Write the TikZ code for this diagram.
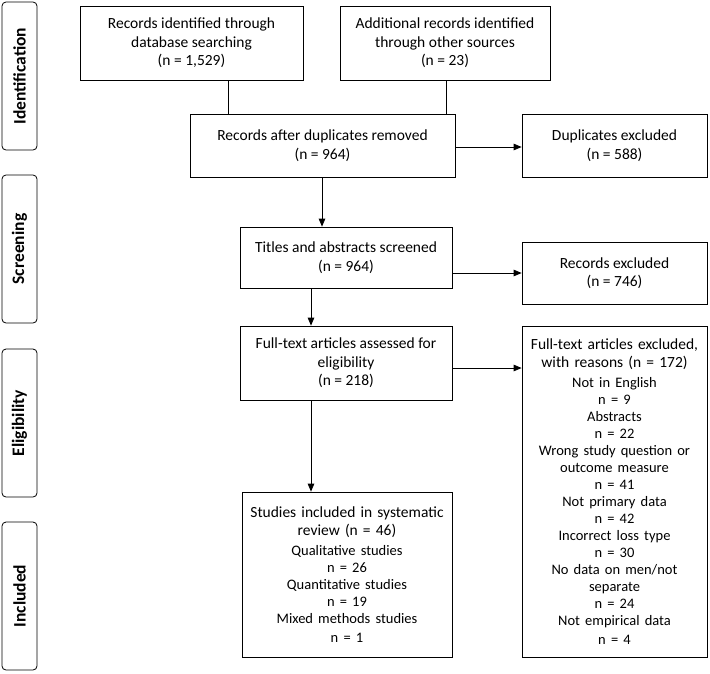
\documentclass[tikz,border=0pt]{standalone}
\usepackage{fontspec}
\setmainfont{Carlito}
\usetikzlibrary{positioning,arrows,calc}
\tikzset{
  box/.style   = {shape=rectangle, draw, thick, align=center,
                  inner sep=0pt, font=\fontsize{15.5}{18.5}\selectfont},
  phase/.style = {shape=rectangle, rounded corners=4pt, draw, thick,
                  inner sep=0pt, font=\bfseries\fontsize{17.5}{19}\selectfont},
  link/.style  = {thick},
  flow/.style  = {thick,-triangle 45}
}
\newcommand{\pbox}[5]{% name, x1, y1, x2, y2, then text follows
  \node[box, minimum width=#4-#2, minimum height=#5-#3] (#1) at ({(#2+#4)/2},{(#3+#5)/2})}
\newcommand{\sub}{\fontsize{14.5}{17}\selectfont}
\begin{document}
\begin{tikzpicture}[x=1pt,y=-1pt]
\useasboundingbox (0,0) rectangle (710,673);
% phases
\node[phase, minimum width=148, minimum height=35, rotate=90] (ident) at (19.5,76) {Identification};
\node[phase, minimum width=148, minimum height=35, rotate=90] (screen) at (19.5,249) {Screening};
\node[phase, minimum width=148, minimum height=35, rotate=90] (elig) at (19.5,423) {Eligibility};
\node[phase, minimum width=148, minimum height=35, rotate=90] (incl) at (19.5,596) {Included};
% identification
\pbox{dbase}{80}{6}{303}{80} {Records identified through\\database searching\\(n = 1,529)};
\pbox{other}{340}{6}{550}{80} {Additional records identified\\through other sources\\(n = 23)};
\pbox{dedup}{190}{114}{455}{177} {Records after duplicates removed\\(n = 964)};
\pbox{dupl}{522}{114}{707}{177} {Duplicates excluded\\(n = 588)};
% screening
\pbox{titles}{240}{227}{452}{288} {Titles and abstracts screened\\(n = 964)};
\pbox{recex}{522}{242}{707}{304} {Records excluded\\(n = 746)};
% eligibility
\pbox{full}{240}{326}{452}{400} {Full-text articles assessed for\\eligibility\\(n = 218)};
\node[box, minimum width=185, minimum height=331, text width=180] (fullex) at (614.5,491.5)
  {Full-text articles excluded,\\with reasons (n = 172)\\[3pt]
   \sub Not in English\\n = 9\\Abstracts\\n = 22\\
   Wrong study question or\\outcome measure\\n = 41\\Not primary data\\n = 42\\
   Incorrect loss type\\n = 30\\No data on men/not\\separate\\n = 24\\
   Not empirical data\\n = 4};
% included
\node[box, minimum width=210, minimum height=165, text width=205] (incl) at (347,574.5)
  {Studies included in systematic\\review (n = 46)\\[3pt]
   \sub Qualitative studies\\n = 26\\Quantitative studies\\n = 19\\
   Mixed methods studies\\n = 1};
% connectors
\draw[link] (dbase.south -| 228,0) -- (dedup.north -| 228,0);
\draw[link] (other.south -| 446,0) -- (dedup.north -| 446,0);
\draw[flow] (dedup.east |- 0,147) -- (dupl.west |- 0,147);
\draw[flow] (dedup.south -| 322,0) -- (titles.north -| 322,0);
\draw[flow] (titles.east |- 0,273) -- (recex.west |- 0,273);
\draw[flow] (titles.south -| 311,0) -- (full.north -| 311,0);
\draw[flow] (full.east |- 0,368) -- (fullex.west |- 0,368);
\draw[flow] (full.south -| 311,0) -- (incl.north -| 311,0);
\end{tikzpicture}
\end{document}
